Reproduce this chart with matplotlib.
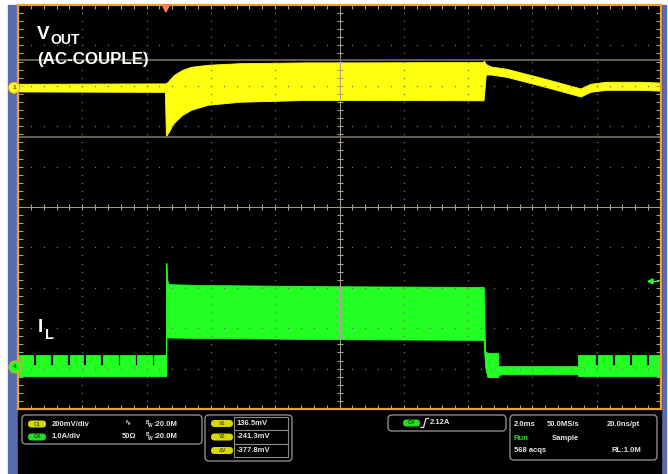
import numpy as np
import matplotlib.pyplot as plt
from matplotlib.patches import FancyBboxPatch, Rectangle, Circle, Polygon

# scope setup (from the status bar)
ms_per_div = 2.0
mv_per_div = 200.0
amp_per_div = 1.0
trig_div = -2.70      # trigger point, divisions from screen centre
ch1_offset = 2.95     # VOUT ground marker, divisions
ch4_offset = -3.96    # IL ground marker, divisions
cursor_v1 = 136.5     # mV
cursor_v2 = -241.3    # mV
trig_level = 2.12     # A

# VOUT (AC coupled), envelope of the trace: time ms, top/bottom mV
vout_t = [-4.57, -0.03, 0.00, 0.06, 0.25, 0.50, 0.78, 1.30, 2.30, 4.40, 6.00, 9.88,
          9.88, 9.95, 10.10, 10.60, 11.65, 12.67, 12.90, 13.20, 13.70, 14.75, 15.37]
vout_hi = [20, 22, 22, 30, 64, 88, 104, 114, 122, 126, 126, 128,
           138, 118, 106, 94, 51, 7, -3, 20, 30, 30, 26]
vout_lo = [-18, -20, -240, -225, -173, -135, -109, -84, -69, -60, -60, -62,
           -62, 66, 66, 54, 11, -33, -43, -20, -10, -10, -14]

# IL light-load bursts: gaps between bursts (ms)
il_pre = (-4.57, 0.0)
il_gaps_pre = [-4.10, -3.57, -3.04, -2.52, -1.99, -1.46, -0.93, -0.40]
il_post = (12.83, 15.37)
il_gaps_post = [13.38, 13.91, 14.44, 14.97]
il_burst_top = 0.30
il_gap_top = 0.05
il_burst_bot = -0.22

# IL with load applied
il_load_t = [0.00, 0.02, 0.04, 0.08, 1.00, 5.00, 9.88]
il_load_hi = [2.57, 2.57, 2.15, 2.05, 2.03, 2.00, 1.98]
il_load_lo = [-0.22, 0.74, 0.74, 0.73, 0.72, 0.69, 0.67]

# IL after load release
il_rel_t = [9.88, 9.93, 10.00, 10.34, 10.34, 10.45, 12.83]
il_rel_hi = [1.98, 0.40, 0.35, 0.35, 0.02, 0.02, 0.02]
il_rel_lo = [0.67, 0.00, -0.25, -0.25, -0.20, -0.18, -0.18]

YEL = '#ffff10'
GRN = '#22ff22'
ORANGE = '#f0a030'
BLUE = '#5a6cb0'
FAM = ['Liberation Sans', 'DejaVu Sans']


def xdiv(t):
    return trig_div + np.asarray(t, float) / ms_per_div


def bursts(span, gaps, w=0.09):
    t = [span[0]]
    hi = [il_burst_top]
    for g in gaps:
        t += [g - w / 2, g - w / 2, g + w / 2, g + w / 2]
        hi += [il_burst_top, il_gap_top, il_gap_top, il_burst_top]
    t.append(span[1])
    hi.append(il_burst_top)
    return np.array(t), np.array(hi), np.full(len(t), il_burst_bot)


fig = plt.figure(figsize=(6.68, 4.74), dpi=100)
fig.patch.set_facecolor('white')

bg = fig.add_axes([0, 0, 1, 1], zorder=0)
bg.set_xlim(0, 668)
bg.set_ylim(474, 0)
bg.axis('off')
bg.add_patch(Rectangle((8, 5), 10, 469, color=BLUE))
bg.add_patch(Rectangle((661, 5), 5, 469, color=BLUE))
bg.add_patch(Rectangle((18, 5), 643, 469, color='black'))

ax = fig.add_axes([18 / 668, 65 / 474, 643 / 668, 404 / 474], zorder=1)
ax.set_facecolor('black')
ax.set_xlim(-5, 5)
ax.set_ylim(-5, 5)
ax.set_xticks([])
ax.set_yticks([])
for s in ax.spines.values():
    s.set_color(ORANGE)
    s.set_linewidth(1.6)

# graticule
sub = np.arange(-5, 5.001, 0.2)
for k in range(-4, 5):
    if k == 0:
        continue
    ax.plot(np.full_like(sub, k), sub, ls='none', marker='s', ms=0.9, color='#6e6e6e', mew=0)
    ax.plot(sub, np.full_like(sub, k), ls='none', marker='s', ms=0.9, color='#6e6e6e', mew=0)
ax.axhline(0, color='#a8a090', lw=0.7)
ax.axvline(0, color='#a8a090', lw=0.7)
ax.plot(sub, np.zeros_like(sub), ls='none', marker='|', ms=4, color='#a8a090', mew=0.8)
ax.plot(np.zeros_like(sub), sub, ls='none', marker='_', ms=5, color='#a8a090', mew=0.8)
for e in (-5, 5):
    ax.plot(sub, np.full_like(sub, e), ls='none', marker='|', ms=6, color='#a8a090', mew=0.8)
    ax.plot(np.full_like(sub, e), sub, ls='none', marker='_', ms=7, color='#a8a090', mew=0.8)

# cursors
for c in (cursor_v1, cursor_v2):
    ax.axhline(ch1_offset + c / mv_per_div, color='#76705a', lw=1.2)

# VOUT
ax.fill_between(xdiv(vout_t), ch1_offset + np.array(vout_hi) / mv_per_div,
                ch1_offset + np.array(vout_lo) / mv_per_div, color=YEL, lw=0.6, ec=YEL)

# IL
for span, gaps in ((il_pre, il_gaps_pre), (il_post, il_gaps_post)):
    t, hi, lo = bursts(span, gaps)
    ax.fill_between(xdiv(t), ch4_offset + hi / amp_per_div, ch4_offset + lo / amp_per_div,
                    color=GRN, lw=0.6, ec=GRN)
for t, hi, lo in ((il_load_t, il_load_hi, il_load_lo), (il_rel_t, il_rel_hi, il_rel_lo)):
    ax.fill_between(xdiv(t), ch4_offset + np.array(hi) / amp_per_div,
                    ch4_offset + np.array(lo) / amp_per_div, color=GRN, lw=0.6, ec=GRN)

# overlay: labels, markers, status bar
ov = fig.add_axes([0, 0, 1, 1], zorder=2)
ov.set_xlim(0, 668)
ov.set_ylim(474, 0)
ov.axis('off')
ov.patch.set_alpha(0)

lab = dict(color='white', fontweight='bold', family=FAM, va='baseline')
ov.text(37, 38.5, 'V', fontsize=13.5, **lab)
ov.text(50.5, 43.5, 'OUT', fontsize=10, **lab)
ov.text(37, 64, '(AC-COUPLE)', fontsize=12.2, **lab)
ov.text(38, 332, 'I', fontsize=13.5, **lab)
ov.text(44.5, 339, 'L', fontsize=10.5, **lab)

# ground markers
y1 = 207 - ch1_offset * 40.4
y4 = 207 - ch4_offset * 40.4
ov.add_patch(Circle((14, y1), 5.5, fc=YEL, ec=ORANGE, lw=0.6))
ov.text(14, y1, '1', fontsize=4, ha='center', va='center', color='#555500', fontweight='bold')
ov.add_patch(Polygon([[22, y1 - 3], [29, y1], [22, y1 + 3]], closed=True, fill=False, ec=YEL, lw=0.6))
ov.add_patch(Circle((15, y4), 6, fc=GRN, ec=ORANGE, lw=0.8))
ov.text(15, y4, '4', fontsize=4, ha='center', va='center', color='#005500', fontweight='bold')
ov.add_patch(Polygon([[23, y4 - 3], [30, y4], [23, y4 + 3]], closed=True, fill=False, ec=GRN, lw=0.6))

# trigger position / level markers
tx = 339.5 + trig_div * 64.3
ov.add_patch(Polygon([[tx - 3.5, 5], [tx + 3.5, 5], [tx, 12]], closed=True, color='#f08060'))
ty = 207 - (ch4_offset + trig_level / amp_per_div) * 40.4
ov.add_patch(Polygon([[648, ty], [653, ty - 2.5], [653, ty + 2.5]], closed=True, color=GRN))
ov.plot([653, 658], [ty, ty], color=GRN, lw=0.8)

# status bar
st = dict(color='#e6e6e6', fontsize=5.5, fontweight='bold', family=FAM, va='center')


def box(x, y, w, h):
    ov.add_patch(FancyBboxPatch((x, y), w, h, boxstyle='round,pad=0,rounding_size=4',
                                fc='black', ec='#8a8a8a', lw=1))


def pill(x, y, w, col, txt, tcol):
    ov.add_patch(FancyBboxPatch((x, y - 3.5), w, 7, boxstyle='round,pad=0,rounding_size=3.5',
                                fc=col, ec='none'))
    ov.text(x + w / 2, y, txt, fontsize=3.8, ha='center', va='center', color=tcol,
            fontweight='bold', family=FAM)


box(22, 415, 180, 29)
pill(28, 424, 18, '#d8d800', 'C1', '#555500')
pill(28, 437, 18, '#22dd22', 'C4', '#005500')
ov.text(52, 424, '200mV/div', **st)
ov.text(52, 437, '1.0A/div', **st)
ov.text(124, 424, '\u223f', **st)
ov.text(122, 437, '50\u03a9', **st)
for yy in (424, 437):
    ov.text(146, yy - 2, 'B', **dict(st, fontsize=3.5))
    ov.text(148, yy + 1.5, 'W', **dict(st, fontsize=3.5))
    ov.text(153, yy, ':20.0M', **st)

box(205, 415, 87, 46)
for yy, name, val in ((423.5, 'V1', '136.5mV'), (437, 'V2', '-241.3mV'), (450.5, '\u0394V', '-377.8mV')):
    pill(211, yy, 22, '#d8d800', name, '#555500')
    ov.add_patch(Rectangle((234, yy - 6.7), 54, 13.4, fc='black', ec='#8a8a8a', lw=0.8))
    ov.text(236.5, yy, val, **st)

box(388, 415, 118, 16)
pill(403, 423, 17, '#22dd22', 'C4', '#005500')
ov.plot([421, 423.5, 426, 428.5], [427.5, 427.5, 418.5, 418.5], color='#e6e6e6', lw=0.9)
ov.text(430, 423, '2.12A', **st)

box(510, 415, 147, 45)
ov.text(514, 424, '2.0ms', **st)
ov.text(547, 424, '50.0MS/s', **st)
ov.text(607, 424, '20.0ns/pt', **st)
ov.text(514, 438, 'Run', **dict(st, color='#22dd22'))
ov.text(552, 438, 'Sample', **st)
ov.text(514, 451, '568 acqs', **st)
ov.text(611, 451, 'RL:1.0M', **st)

fig.savefig('out.png', dpi=100, facecolor='white')
